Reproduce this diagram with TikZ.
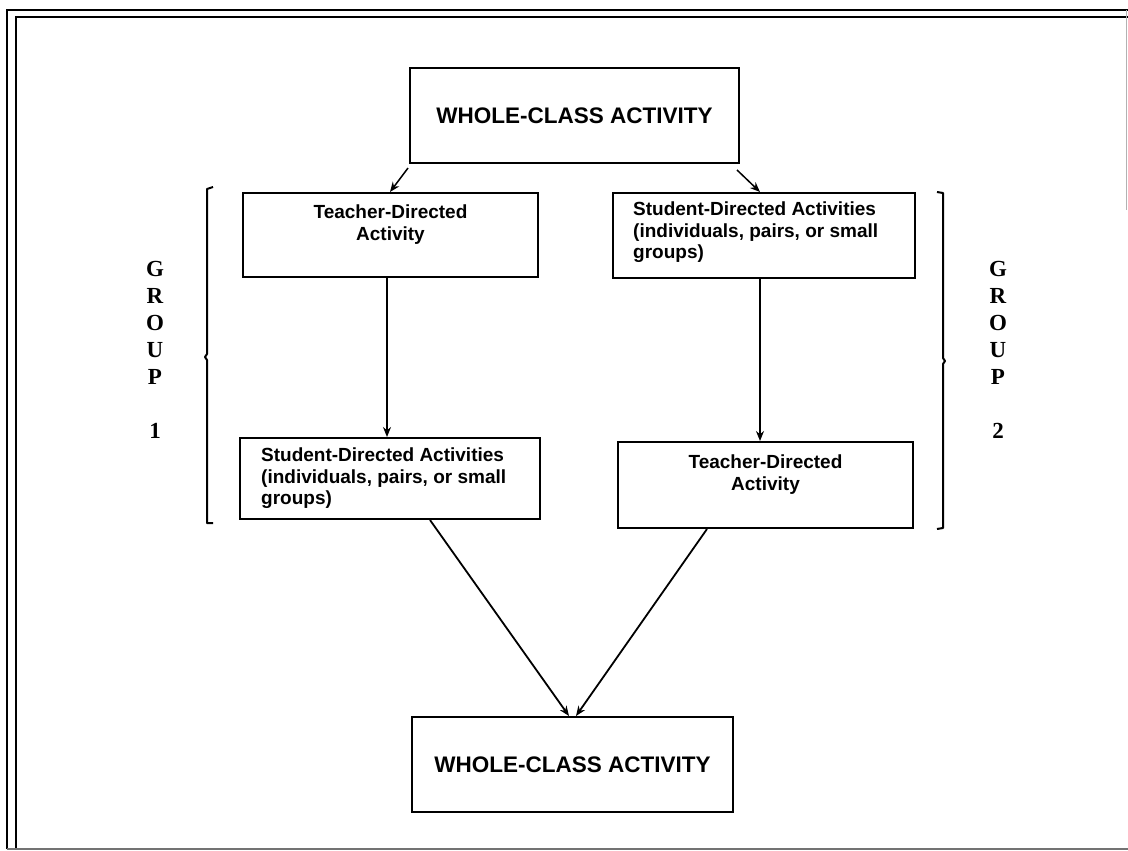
\documentclass[tikz,border=0pt]{standalone}
\usepackage{fontspec}
\setmainfont{Liberation Sans}
\newfontfamily\grpfont{Liberation Serif}
\usetikzlibrary{arrows.meta}
\tikzset{
  box/.style={draw, line width=2pt, inner sep=0pt},
  head/.style={font=\bfseries\fontsize{22.5}{26}\selectfont},
  btxt/.style={font=\bfseries\fontsize{19}{21.5}\selectfont, inner sep=0pt, anchor=north},
  grp/.style={font=\grpfont\bfseries\fontsize{23}{27}\selectfont, align=center, inner sep=0pt},
  arr/.style={-{Stealth[length=10pt,width=8pt]}, line width=1.5pt},
  brk/.style={line width=2pt, line join=round},
  frame/.style={line width=2.2pt}
}
\begin{document}
\begin{tikzpicture}[x=1pt,y=-1pt]
\useasboundingbox (0,0) rectangle (1128,851);
% frame
\draw[frame] (7,849) -- (7,10) -- (1128,10);
\draw[frame] (16,849) -- (16,17) -- (1128,17);
\draw[frame, black!55] (7,849) -- (1128,849);
\draw[line width=0.8pt, black!30] (1126,10) -- (1126,210);
% boxes
\node[box, head, minimum width=329pt, minimum height=95pt] (top) at (574.5,115.5) {WHOLE-CLASS ACTIVITY};
\node[box, minimum width=295pt, minimum height=84pt] (tl) at (390.5,235) {};
\node[box, minimum width=302pt, minimum height=85pt] (tr) at (764,235.5) {};
\node[box, minimum width=300pt, minimum height=81pt] (bl) at (390,478.5) {};
\node[box, minimum width=295pt, minimum height=86pt] (br) at (765.5,485) {};
\node[box, head, minimum width=321pt, minimum height=95pt] (bot) at (572.5,764.5) {WHOLE-CLASS ACTIVITY};
% box texts
\node[btxt, align=center] (tlt) at ([yshift=-13pt]tl.north) {Teacher-Directed\\Activity};
\node[btxt, align=left, anchor=north west] (trt) at ([xshift=21pt,yshift=-10pt]tr.north west) {Student-Directed Activities\\(individuals, pairs, or small\\groups)};
\node[btxt, align=left, anchor=north west] (blt) at ([xshift=22pt,yshift=-11pt]bl.north west) {Student-Directed Activities\\(individuals, pairs, or small\\groups)};
\node[btxt, align=center] (brt) at ([yshift=-14pt]br.north) {Teacher-Directed\\Activity};
% group labels
\node[grp] (g1) at (155,350) {G\\R\\O\\U\\P\\[27pt]1};
\node[grp] (g2) at (998,350) {G\\R\\O\\U\\P\\[27pt]2};
% brackets
\draw[brk] (213,187) -- (207,189) -- (207,354) -- (205,357) -- (207,360) -- (207,523) -- (213,523);
\draw[brk] (937,192) -- (943,193) -- (943,358) -- (945,361) -- (943,364) -- (943,528) -- (937,529);
% connectors
\coordinate (a1s) at (408,168);
\coordinate (a1e) at (390,0);
\coordinate (a2s) at (737,170);
\coordinate (a2e) at (760,0);
\draw[arr] (a1s) -- (a1e |- tl.north);
\draw[arr] (a2s) -- (a2e |- tr.north);
\coordinate (vl) at (387,0);
\coordinate (vr) at (760,0);
\draw[arr] (vl |- tl.south) -- (vl |- bl.north);
\draw[arr] (vr |- tr.south) -- (vr |- br.north);
\coordinate (dl) at (430,0);
\coordinate (dr) at (707,0);
\coordinate (m1) at (569,0);
\coordinate (m2) at (576,0);
\draw[arr, line width=1.8pt] (dl |- bl.south) -- (m1 |- bot.north);
\draw[arr, line width=1.8pt] (dr |- br.south) -- (m2 |- bot.north);
\end{tikzpicture}
\end{document}
